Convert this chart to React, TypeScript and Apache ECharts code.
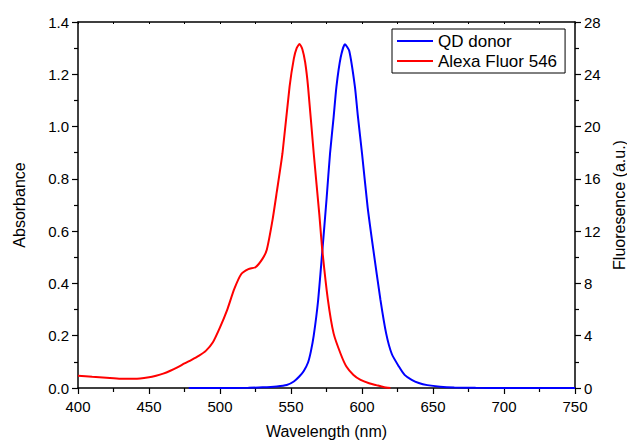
import React, { useEffect, useRef } from "react";
import * as echarts from "echarts";

const absWavelength = [400, 410, 420, 430, 440, 450, 455, 460, 465, 470, 475, 480, 485, 490, 495, 500, 505, 510, 515, 520, 525, 530, 533, 537, 540, 544, 549, 552, 554, 556, 558, 560, 562, 566, 570, 572, 576, 580, 585, 589, 594, 599, 605, 610, 615, 620];
const absValues = [0.047, 0.043, 0.039, 0.035, 0.035, 0.041, 0.047, 0.055, 0.066, 0.079, 0.094, 0.108, 0.123, 0.142, 0.175, 0.232, 0.298, 0.378, 0.436, 0.455, 0.462, 0.495, 0.53, 0.643, 0.75, 0.898, 1.153, 1.26, 1.30, 1.316, 1.296, 1.245, 1.153, 0.898, 0.66, 0.53, 0.337, 0.209, 0.13, 0.082, 0.05, 0.031, 0.018, 0.011, 0.004, 0.0];

const fluWavelength = [478, 500, 520, 530, 540, 547, 552, 556, 559, 562, 564, 566, 569, 572, 575, 577.5, 580, 582, 585, 588, 591, 595, 597, 600, 604, 608, 613, 617, 621, 626, 630, 635, 640, 646, 655, 665, 680, 700, 750];
const fluValues = [0, 0, 0.02, 0.05, 0.12, 0.23, 0.5, 0.9, 1.3, 1.95, 2.8, 4.0, 6.6, 10.4, 14.4, 17.96, 20.7, 23.06, 25.3, 26.3, 25.8, 23.06, 20.9, 17.96, 13.8, 10.56, 6.74, 4.18, 2.6, 1.64, 1.0, 0.62, 0.38, 0.22, 0.1, 0.04, 0.01, 0, 0];

const seriesNames = ["QD donor", "Alexa Fluor 546"];
const xName = "Wavelength (nm)";
const leftName = "Absorbance";
const rightName = "Fluoresence (a.u.)";

const FONT = "Liberation Sans, Arial, sans-serif";

export default function App() {
  const ref = useRef<HTMLDivElement>(null);
  useEffect(() => {
    if (!ref.current) return;
    const chart = echarts.init(ref.current, undefined, { renderer: "svg" });
    const axisLine = { show: true, onZero: false, lineStyle: { color: "#000", width: 1.5 } };
    const labelStyle = { color: "#000", fontSize: 15, fontFamily: FONT };
    chart.setOption({
      animation: false,
      backgroundColor: "#fff",
      grid: { left: 78, right: 52, top: 22, bottom: 54, containLabel: false, outerBoundsMode: "none" },
      legend: {
        orient: "vertical",
        left: 392,
        top: 29,
        data: seriesNames,
        icon: "rect",
        itemWidth: 36,
        itemHeight: 2,
        itemGap: 2,
        padding: [3, 8, 3, 5],
        borderColor: "#000",
        borderWidth: 1,
        textStyle: { color: "#000", fontSize: 17, fontFamily: FONT, lineHeight: 18 },
      },
      xAxis: [
        {
          type: "value",
          position: "bottom",
          min: 400,
          max: 750,
          interval: 50,
          name: xName,
          nameLocation: "middle",
          nameGap: 35,
          nameTextStyle: { color: "#000", fontSize: 16, fontFamily: FONT },
          axisLine,
          axisTick: { show: true, length: 6, lineStyle: { color: "#000", width: 1.2 } },
          minorTick: { show: true, splitNumber: 2, length: 4, lineStyle: { color: "#000", width: 1.2 } },
          axisLabel: { ...labelStyle, margin: 11 },
          splitLine: { show: false },
        },
        {
          type: "value",
          position: "top",
          min: 400,
          max: 750,
          interval: 25,
          axisLine,
          axisTick: { show: true, inside: true, length: 2, lineStyle: { color: "#000", width: 1 } },
          axisLabel: { show: false },
          splitLine: { show: false },
        },
      ],
      yAxis: [
        {
          type: "value",
          position: "left",
          min: 0,
          max: 1.4,
          interval: 0.2,
          name: leftName,
          nameLocation: "middle",
          nameGap: 51,
          nameRotate: 90,
          nameTextStyle: { color: "#000", fontSize: 16, fontFamily: FONT },
          axisLine,
          axisTick: { show: true, length: 6, lineStyle: { color: "#000", width: 1.2 } },
          minorTick: { show: true, splitNumber: 2, length: 4, lineStyle: { color: "#000", width: 1.2 } },
          axisLabel: { ...labelStyle, margin: 9, formatter: (v: number) => v.toFixed(1) },
          splitLine: { show: false },
        },
        {
          type: "value",
          position: "right",
          min: 0,
          max: 28,
          interval: 4,
          name: rightName,
          nameLocation: "middle",
          nameGap: 34,
          nameRotate: 90,
          nameTextStyle: { color: "#000", fontSize: 16, fontFamily: FONT },
          axisLine,
          axisTick: { show: true, length: 6, lineStyle: { color: "#000", width: 1.2 } },
          minorTick: { show: true, splitNumber: 2, length: 4, lineStyle: { color: "#000", width: 1.2 } },
          axisLabel: { ...labelStyle, margin: 9 },
          splitLine: { show: false },
        },
      ],
      series: [
        {
          name: seriesNames[0],
          type: "line",
          xAxisIndex: 0,
          yAxisIndex: 1,
          symbol: "none",
          smooth: 0.2,
          lineStyle: { color: "#0000ff", width: 2 },
          itemStyle: { color: "#0000ff" },
          data: fluWavelength.map((w, i) => [w, fluValues[i]]),
        },
        {
          name: seriesNames[1],
          type: "line",
          xAxisIndex: 0,
          yAxisIndex: 0,
          symbol: "none",
          smooth: 0.2,
          lineStyle: { color: "#ff0000", width: 2 },
          itemStyle: { color: "#ff0000" },
          data: absWavelength.map((w, i) => [w, absValues[i]]),
        },
      ],
    });
    return () => chart.dispose();
  }, []);
  return (
    <div
      ref={ref}
      style={{ position: "absolute", left: 0, top: 0, width: 627, height: 442 }}
    />
  );
}
